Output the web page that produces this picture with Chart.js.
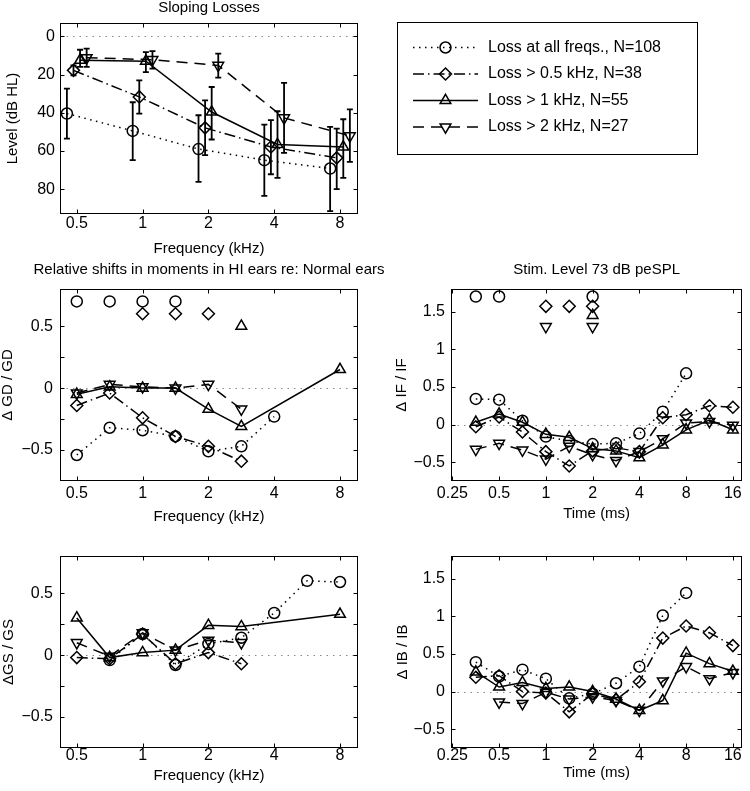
<!DOCTYPE html>
<html>
<head>
<meta charset="utf-8">
<script src="https://cdn.jsdelivr.net/npm/chart.js@4.4.1/dist/chart.umd.min.js"></script>
<style>
  html, body { margin: 0; padding: 0; background: #fff; }
  body { width: 750px; height: 791px; position: relative; overflow: hidden; }
  canvas { position: absolute; }
</style>
</head>
<body>
<canvas id="levels" width="750" height="256" style="left:0;top:0"></canvas>
<canvas id="gd" width="420" height="262" style="left:0;top:262px"></canvas>
<canvas id="if" width="370" height="259" style="left:380px;top:262px"></canvas>
<canvas id="gs" width="420" height="243" style="left:0;top:540px"></canvas>
<canvas id="ib" width="370" height="240" style="left:380px;top:540px"></canvas>
<script>
// series: circle (all freqs), diamond (>0.5k), triangle up (>1k), triangle down (>2k)
const seriesLabels = [
    "Loss at all freqs., N=108",
    "Loss > 0.5 kHz, N=38",
    "Loss > 1 kHz, N=55",
    "Loss > 2 kHz, N=27"
];

// top panel: audiogram levels (dB HL), mean and error bar ends
const audFreqs = [0.5, 1, 2, 4, 8];
const levelMean = [
    [40.4, 49.5, 59.0, 64.8, 69.2],
    [17.8, 31.7, 47.9, 57.9, 63.6],
    [12.5, 13.0, 39.6, 56.6, 57.9],
    [11.2, 12.2, 15.2, 42.7, 52.1]
];
const levelLo = [
    [27.4, 34.5, 41.3, 46.2, 47.4],
    [15.2, 23.0, 33.5, 43.9, 48.3],
    [7.0, 8.2, 26.5, 39.2, 43.4],
    [6.4, 7.7, 9.0, 24.4, 38.2]
];
const levelHi = [
    [53.5, 64.8, 76.2, 83.5, 91.5],
    [20.4, 40.4, 62.2, 72.2, 80.0],
    [16.0, 18.7, 54.0, 74.1, 74.1],
    [16.0, 16.9, 21.6, 61.0, 65.7]
];

// group delay shifts
const gdFreqs = [0.5, 0.707, 1, 1.414, 2, 2.83, 4, 8];
const gdShift = [
    [-0.54, -0.32, -0.34, -0.39, -0.51, -0.47, -0.23, null],
    [-0.14, -0.04, -0.24, -0.39, -0.47, -0.59, null, null],
    [-0.05, 0.01, 0.0, 0.0, -0.17, -0.31, null, 0.15],
    [-0.04, 0.03, 0.01, 0.0, 0.03, -0.17, null, null]
];
const gdMarkFreqs = [[0.5, 0.707, 1, 1.414], [1, 1.414, 2], [2.83], []];
const gdMarkLevel = [0.7, 0.6, 0.5, 0.4];

// group spread shifts
const gsFreqs = [0.5, 0.707, 1, 1.414, 2, 2.83, 4, 5.66, 8];
const gsShift = [
    [null, -0.04, 0.17, -0.08, 0.09, 0.14, 0.34, 0.60, 0.59],
    [-0.02, -0.03, 0.17, -0.07, 0.02, -0.07, null, null, null],
    [0.30, -0.02, 0.02, 0.04, 0.24, 0.23, null, null, 0.33],
    [0.10, -0.01, 0.18, 0.04, 0.12, 0.10, null, null, null]
];

// instantaneous frequency shifts vs time
const times = [0.354, 0.5, 0.707, 1, 1.414, 2, 2.83, 4, 5.66, 8, 11.3, 16];
const ifShift = [
    [0.34, 0.33, 0.05, -0.16, -0.22, -0.26, -0.25, -0.12, 0.17, 0.68, null, null],
    [-0.03, 0.10, -0.10, -0.36, -0.55, -0.35, -0.31, -0.36, 0.09, 0.13, 0.25, 0.23],
    [0.03, 0.14, 0.03, -0.13, -0.17, -0.32, -0.35, -0.44, -0.27, -0.07, 0.06, -0.07],
    [-0.33, -0.25, -0.34, -0.46, -0.29, -0.40, -0.48, -0.36, -0.19, 0.02, 0.04, -0.01]
];
const ifMarkTimes = [[0.354, 0.5, 2], [1, 1.414, 2], [2], [1, 2]];
const ifMarkLevel = [1.70, 1.57, 1.45, 1.30];

// instantaneous bandwidth shifts vs time
const ibShift = [
    [0.39, 0.20, 0.29, 0.17, -0.09, -0.03, 0.11, 0.33, 1.01, 1.31, null, null],
    [0.19, 0.21, 0.0, -0.02, -0.27, -0.03, -0.11, 0.13, 0.71, 0.87, 0.78, 0.61],
    [0.26, 0.06, 0.12, 0.04, 0.06, 0.0, -0.10, -0.25, -0.12, 0.51, 0.37, 0.27],
    [null, -0.14, -0.16, -0.01, -0.10, -0.07, -0.12, -0.25, 0.14, 0.33, 0.17, 0.25]
];

const freqTicks = [0.5, 1, 2, 4, 8];
const timeTicks = [0.25, 0.5, 1, 2, 4, 8, 16];
const levelTicks = [0, 20, 40, 60, 80];
const smallTicks = [-0.5, -0.25, 0, 0.25, 0.5];
const bigTicks = [-0.5, 0, 0.5, 1, 1.5];

// ---- styling ----
const FONT = "'Liberation Sans', Arial, Helvetica, sans-serif";
Chart.defaults.font.family = FONT;
Chart.defaults.font.size = 15;
Chart.defaults.color = "#000";

const styles = [
    { shape: "circle", radius: 5.5, rotation: 0, dash: [1.5, 4.5] },
    { shape: "rectRot", radius: 6, rotation: 0, dash: [11, 4, 1.5, 4] },
    { shape: "triangle", radius: 6.2, rotation: 0, dash: [] },
    { shape: "triangle", radius: 6.2, rotation: 180, dash: [11, 7] }
];
// small sideways offset (octaves) for the error-bar panel
const jitter = [-0.15, -0.05, 0.05, 0.15];

const fmt = (v) => (v < 0 ? "\u2212" : "") + String(Math.abs(v));

function pointOpts(i) {
    const s = styles[i];
    return {
        pointStyle: s.shape,
        pointRadius: s.radius,
        pointRotation: s.rotation,
        pointBorderWidth: 1.5,
        pointBorderColor: "#000",
        pointBackgroundColor: "rgba(0,0,0,0)"
    };
}

function lineSet(xs, ys, i, extra) {
    return Object.assign({
        data: xs.map((x, k) => ({ x, y: ys[k] })),
        showLine: true,
        spanGaps: true,
        borderColor: "#000",
        borderWidth: 1.5,
        borderDash: styles[i].dash,
        backgroundColor: "rgba(0,0,0,0)"
    }, pointOpts(i), extra || {});
}

function markSet(xs, level, i) {
    return Object.assign({
        data: xs.map((x) => ({ x, y: level })),
        showLine: false,
        borderColor: "#000",
        backgroundColor: "rgba(0,0,0,0)"
    }, pointOpts(i));
}

// frame, inner ticks, dotted zero line and panel title
const frame = {
    id: "frame",
    beforeDatasetsDraw(chart) {
        const { ctx, chartArea: a, scales: { y } } = chart;
        const y0 = Math.round(y.getPixelForValue(0)) + 0.5;
        ctx.save();
        ctx.strokeStyle = "#8a8a8a";
        ctx.lineWidth = 1.2;
        ctx.setLineDash([1.5, 5]);
        ctx.beginPath();
        ctx.moveTo(a.left, y0);
        ctx.lineTo(a.right, y0);
        ctx.stroke();
        ctx.restore();
    },
    afterDraw(chart, args, opts) {
        const { ctx, chartArea: a, scales: { x, y } } = chart;
        const L = Math.round(a.left) + 0.5, R = Math.round(a.right) - 0.5;
        const T = Math.round(a.top) + 0.5, B = Math.round(a.bottom) - 0.5;
        ctx.save();
        ctx.strokeStyle = "#000";
        ctx.lineWidth = 1;
        ctx.strokeRect(L, T, R - L, B - T);
        ctx.beginPath();
        x.ticks.forEach((t) => {
            const px = Math.round(x.getPixelForValue(t.value)) + 0.5;
            ctx.moveTo(px, B); ctx.lineTo(px, B - 4);
            ctx.moveTo(px, T); ctx.lineTo(px, T + 4);
        });
        y.ticks.forEach((t) => {
            const py = Math.round(y.getPixelForValue(t.value)) + 0.5;
            ctx.moveTo(L, py); ctx.lineTo(L + 4, py);
            ctx.moveTo(R, py); ctx.lineTo(R - 4, py);
        });
        ctx.stroke();
        if (opts.title) {
            ctx.font = "15px " + FONT;
            ctx.fillStyle = "#000";
            ctx.textAlign = "center";
            ctx.textBaseline = "middle";
            ctx.fillText(opts.title, (a.left + a.right) / 2, a.top - opts.titleGap);
        }
        ctx.restore();
    }
};

const errorBars = {
    id: "errorBars",
    afterDatasetsDraw(chart) {
        const { ctx, scales: { y } } = chart;
        chart.data.datasets.forEach((ds, di) => {
            if (!ds.errLo) return;
            const meta = chart.getDatasetMeta(di);
            ctx.save();
            ctx.strokeStyle = "#000";
            ctx.lineWidth = 1.8;
            ctx.beginPath();
            meta.data.forEach((pt, k) => {
                const y1 = y.getPixelForValue(ds.errLo[k]);
                const y2 = y.getPixelForValue(ds.errHi[k]);
                ctx.moveTo(pt.x, y1); ctx.lineTo(pt.x, y2);
                ctx.moveTo(pt.x - 3, y1); ctx.lineTo(pt.x + 3, y1);
                ctx.moveTo(pt.x - 3, y2); ctx.lineTo(pt.x + 3, y2);
            });
            ctx.stroke();
            ctx.restore();
        });
    }
};

const legendBox = {
    id: "legendBox",
    afterDraw(chart) {
        const ctx = chart.ctx;
        const box = { x: 397, y: 22, w: 300, h: 132 };
        ctx.save();
        ctx.strokeStyle = "#000";
        ctx.lineWidth = 1;
        ctx.strokeRect(box.x + 0.5, box.y + 0.5, box.w, box.h);
        ctx.font = "16px " + FONT;
        ctx.fillStyle = "#000";
        ctx.textBaseline = "middle";
        seriesLabels.forEach((label, i) => {
            const ds = chart.data.datasets[i];
            const yy = box.y + 25.5 + i * 26.5;
            ctx.strokeStyle = "#000";
            ctx.setLineDash(ds.borderDash);
            ctx.lineWidth = ds.borderWidth;
            ctx.beginPath();
            ctx.moveTo(413, yy);
            ctx.lineTo(478, yy);
            ctx.stroke();
            ctx.setLineDash([]);
            ctx.fillStyle = "rgba(0,0,0,0)";
            ctx.lineWidth = ds.pointBorderWidth;
            Chart.helpers.drawPoint(ctx, {
                pointStyle: ds.pointStyle,
                rotation: ds.pointRotation,
                radius: ds.pointRadius,
                borderWidth: ds.pointBorderWidth
            }, 445.5, yy);
            ctx.fillStyle = "#000";
            ctx.fillText(label, 488, yy);
        });
        ctx.restore();
    }
};

function xAxis(min, max, ticks, title, height, pad) {
    return {
        type: "logarithmic",
        min, max,
        grid: { display: false, drawTicks: false },
        border: { display: false },
        afterBuildTicks: (s) => { s.ticks = ticks.map((v) => ({ value: v })); },
        afterFit: (s) => { s.height = height; },
        ticks: {
            autoSkip: false, maxRotation: 0, padding: pad,
            font: { size: 16, lineHeight: 1 },
            callback: (v) => fmt(v)
        },
        title: { display: true, text: title, padding: 0, font: { size: 15, lineHeight: 1 } }
    };
}

function yAxis(min, max, ticks, title, width, titlePad, tickPad, reverse) {
    return {
        type: "linear",
        min, max, reverse: !!reverse,
        grid: { display: false, drawTicks: false },
        border: { display: false },
        afterBuildTicks: (s) => { s.ticks = ticks.map((v) => ({ value: v })); },
        afterFit: (s) => { s.width = width; },
        ticks: {
            padding: tickPad,
            font: { size: 16, lineHeight: 1 },
            callback: (v) => (Math.abs(v) === 0.25 ? "" : fmt(v))
        },
        title: { display: true, text: title, padding: { top: titlePad, bottom: 0 }, font: { size: 15, lineHeight: 1 } }
    };
}

function makeChart(id, datasets, opts) {
    const plugins = [frame];
    if (opts.extraPlugins) plugins.push(...opts.extraPlugins);
    return new Chart(document.getElementById(id), {
        type: "scatter",
        data: { datasets },
        plugins,
        options: {
            responsive: false,
            animation: false,
            events: [],
            layout: { padding: opts.padding },
            plugins: {
                legend: { display: false },
                tooltip: { enabled: false },
                frame: { title: opts.title || "", titleGap: opts.titleGap || 0 }
            },
            scales: { x: opts.x, y: opts.y }
        }
    });
}

// ---- panel 1: sloping losses ----
const levelSets = levelMean.map((ys, i) => lineSet(
    audFreqs.map((f) => f * Math.pow(2, jitter[i])), ys, i,
    { errLo: levelLo[i], errHi: levelHi[i] }
));
makeChart("levels", levelSets, {
    padding: { left: 0, right: 392, top: 23, bottom: 0 },
    title: "Sloping Losses", titleGap: 15.5,
    x: xAxis(0.419, 9.67, freqTicks, "Frequency (kHz)", 42, 2),
    y: yAxis(-7, 93, levelTicks, "Level (dB HL)", 60, 5, 5, true),
    extraPlugins: [errorBars, legendBox]
});

// ---- panel 2: group delay ----
makeChart("gd", [
    ...gdShift.map((ys, i) => lineSet(gdFreqs, ys, i)),
    ...gdMarkFreqs.map((xs, i) => markSet(xs, gdMarkLevel[i], i))
], {
    padding: { left: 0, right: 62, top: 27, bottom: 0 },
    title: "Relative shifts in moments in HI ears re: Normal ears", titleGap: 19.5,
    x: xAxis(0.419, 9.67, freqTicks, "Frequency (kHz)", 43, 5),
    y: yAxis(-0.75, 0.8, smallTicks, "\u0394 GD / GD", 60, 0, 7)
});

// ---- panel 3: instantaneous frequency ----
makeChart("if", [
    ...ifShift.map((ys, i) => lineSet(times, ys, i)),
    ...ifMarkTimes.map((xs, i) => markSet(xs, ifMarkLevel[i], i))
], {
    padding: { left: 0, right: 1.5, top: 27, bottom: 0 },
    title: "Stim. Level 73 dB peSPL", titleGap: 19.5,
    x: xAxis(0.245, 18.4, timeTicks, "Time (ms)", 40, 5),
    y: yAxis(-0.75, 1.8, bigTicks, "\u0394 IF / IF", 71, 14.5, 6)
});

// ---- panel 4: group spread ----
makeChart("gs", gsShift.map((ys, i) => lineSet(gsFreqs, ys, i)), {
    padding: { left: 0, right: 62, top: 16, bottom: 0 },
    x: xAxis(0.419, 9.67, freqTicks, "Frequency (kHz)", 35, 0),
    y: yAxis(-0.75, 0.8, smallTicks, "\u0394GS / GS", 60, 1, 7)
});

// ---- panel 5: instantaneous bandwidth ----
makeChart("ib", ibShift.map((ys, i) => lineSet(times, ys, i)), {
    padding: { left: 0, right: 1.5, top: 16, bottom: 0 },
    x: xAxis(0.245, 18.4, timeTicks, "Time (ms)", 32, 0),
    y: yAxis(-0.75, 1.8, bigTicks, "\u0394 IB / IB", 71, 15.5, 6)
});
</script>
</body>
</html>
